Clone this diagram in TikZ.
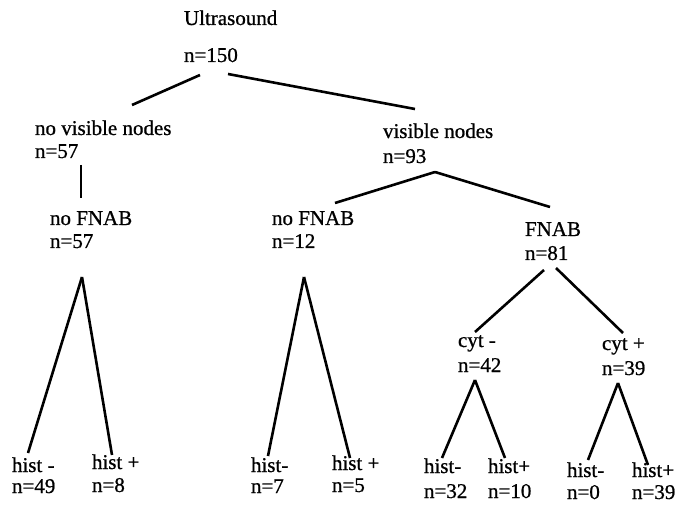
\documentclass[tikz,border=0pt]{standalone}
\usepackage{fontspec}
\setmainfont{Liberation Serif}[FakeBold=0.8]
\usetikzlibrary{calc}
% two left-aligned lines; first baseline is the box baseline, #1 = extra gap
\newcommand\twoline[3]{\begin{tabular}[t]{@{}l@{}}#2\\[#1]#3\end{tabular}}
\begin{document}
\begin{tikzpicture}[x=1pt,y=-1pt,
  lbl/.style={anchor=base west,inner sep=0pt,outer sep=0pt,font=\fontsize{21}{21}\selectfont},
  edge/.style={line width=2.6pt}]
\fill[white] (0,0) rectangle (677,505);
\useasboundingbox (0,0) rectangle (677,505);

% labels
\node[lbl] (root) at (184,25)  {\twoline{16pt}{Ultrasound}{n=150}};
\node[lbl] (novis) at (35,135) {\twoline{2pt}{no visible nodes}{n=57}};
\node[lbl] (vis) at (383,138)  {\twoline{4pt}{visible nodes}{n=93}};
\node[lbl] (nfa) at (50,225)   {\twoline{2pt}{no FNAB}{n=57}};
\node[lbl] (nfb) at (272,225)  {\twoline{2pt}{no FNAB}{n=12}};
\node[lbl] (fnab) at (525,236) {\twoline{3pt}{FNAB}{n=81}};
\node[lbl] (cytm) at (458,347) {\twoline{4pt}{cyt -}{n=42}};
\node[lbl] (cytp) at (602,350) {\twoline{4pt}{cyt +}{n=39}};
\node[lbl] (ham) at (12,472)   {\twoline{0pt}{hist -}{n=49}};
\node[lbl] (hap) at (92,469)   {\twoline{2pt}{hist +}{n=8}};
\node[lbl] (hbm) at (251,472)  {\twoline{0pt}{hist-}{n=7}};
\node[lbl] (hbp) at (332,470)  {\twoline{1pt}{hist +}{n=5}};
\node[lbl] (hcm) at (424,473)  {\twoline{4pt}{hist-}{n=32}};
\node[lbl] (hcp) at (488,473)  {\twoline{4pt}{hist+}{n=10}};
\node[lbl] (hdm) at (567,477)  {\twoline{1pt}{hist-}{n=0}};
\node[lbl] (hdp) at (632,477)  {\twoline{1pt}{hist+}{n=39}};

% attachment points of the branches
\coordinate (root-l) at ($(root.base west)+(16,50)$);
\coordinate (root-r) at ($(root.base west)+(44,49)$);
\coordinate (novis-t) at ($(novis.base west)+(97,-30)$);
\coordinate (novis-b) at ($(novis.base west)+(46,30)$);
\coordinate (vis-t) at ($(vis.base west)+(32,-29)$);
\coordinate (vis-b) at ($(vis.base west)+(52,34)$);
\coordinate (nfa-t) at ($(nfa.base west)+(31,-27)$);
\coordinate (nfa-b) at ($(nfa.base west)+(32,52)$);
\coordinate (nfb-t) at ($(nfb.base west)+(63,-22)$);
\coordinate (nfb-b) at ($(nfb.base west)+(32,52)$);
\coordinate (fnab-t) at ($(fnab.base west)+(25,-29)$);
\coordinate (fnab-bl) at ($(fnab.base west)+(19,34)$);
\coordinate (fnab-br) at ($(fnab.base west)+(31,32)$);
\coordinate (cytm-t) at ($(cytm.base west)+(17,-15)$);
\coordinate (cytm-b) at ($(cytm.base west)+(17,33)$);
\coordinate (cytp-t) at ($(cytp.base west)+(21,-17)$);
\coordinate (cytp-b) at ($(cytp.base west)+(16,33)$);
\coordinate (ham-t) at ($(ham.base west)+(16,-19)$);
\coordinate (hap-t) at ($(hap.base west)+(20,-14)$);
\coordinate (hbm-t) at ($(hbm.base west)+(17,-16)$);
\coordinate (hbp-t) at ($(hbp.base west)+(18,-12)$);
\coordinate (hcm-t) at ($(hcm.base west)+(18,-15)$);
\coordinate (hcp-t) at ($(hcp.base west)+(17,-15)$);
\coordinate (hdm-t) at ($(hdm.base west)+(21,-17)$);
\coordinate (hdp-t) at ($(hdp.base west)+(16,-12)$);

% branches
\draw[edge] (root-l) -- (novis-t);
\draw[edge] (root-r) -- (vis-t);
\draw[edge] (novis-b) -- (nfa-t);
\draw[edge] (vis-b) -- (nfb-t);
\draw[edge] (vis-b) -- (fnab-t);
\draw[edge] (nfa-b) -- (ham-t);
\draw[edge] (nfa-b) -- (hap-t);
\draw[edge] (nfb-b) -- (hbm-t);
\draw[edge] (nfb-b) -- (hbp-t);
\draw[edge] (fnab-bl) -- (cytm-t);
\draw[edge] (fnab-br) -- (cytp-t);
\draw[edge] (cytm-b) -- (hcm-t);
\draw[edge] (cytm-b) -- (hcp-t);
\draw[edge] (cytp-b) -- (hdm-t);
\draw[edge] (cytp-b) -- (hdp-t);
\end{tikzpicture}
\end{document}
